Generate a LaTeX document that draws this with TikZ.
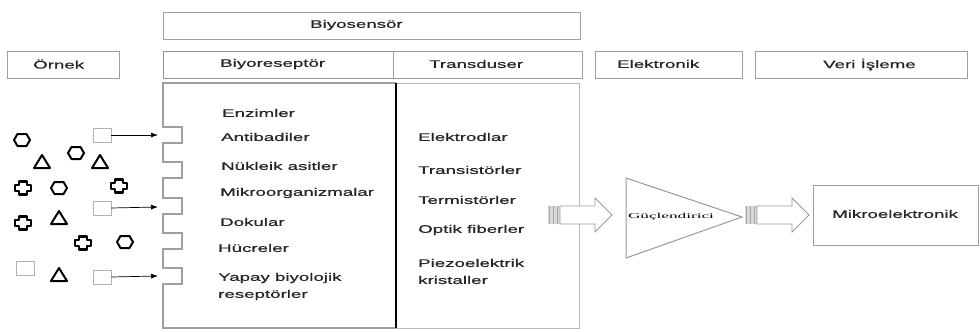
\documentclass[tikz,border=0pt]{standalone}
\usepackage{fontspec}
\setmainfont{Liberation Sans}[FakeStretch=1.7,FakeBold=0.6]
\newfontfamily\ampfont{Liberation Serif}
\usetikzlibrary{arrows.meta}
\begin{document}
\begin{tikzpicture}[x=1pt,y=-1pt,
  box/.style={draw=gray!75,line width=1pt,inner sep=0pt,minimum height=27pt},
  lbl/.style={anchor=west,inner sep=0pt,font=\fontsize{11}{13}\selectfont,text=black!85},
  sq/.style={draw=gray!60,line width=0.8pt,inner sep=0pt,minimum width=18pt,minimum height=14pt},
  mol/.style={draw=black,line width=2pt,line join=round},
  feed/.style={black,line width=0.7pt,-{Latex[length=7pt,width=5pt]}},
  harrow/.pic={
    \fill[gray!30] (0,-9) rectangle (12,9);
    \draw[gray!70,line width=1.3pt] (1.5,-9)--(1.5,9) (5.5,-9)--(5.5,9) (9.5,-9)--(9.5,9);
    \draw[gray!80,line width=0.8pt,fill=white,line join=miter]
      (12,-9) -- (47,-9) -- (47,-17) -- (64,0) -- (47,17) -- (47,9) -- (12,9) -- cycle;
  },
  hexa/.pic={\draw[mol] (-8,0)--(-4.5,-6)--(4.5,-6)--(8,0)--(4.5,6)--(-4.5,6)--cycle;},
  tri/.pic={\draw[mol] (-8,6)--(8,6)--(0,-7)--cycle;},
  crs/.pic={\draw[mol,line width=2.6pt] (-8,-3)--(-4,-3)--(-4,-6.5)--(4,-6.5)--(4,-3)--(8,-3)--(8,3)--(4,3)--(4,6.5)--(-4,6.5)--(-4,3)--(-8,3)--cycle;}
]
\useasboundingbox[fill=white] (0,0) rectangle (980,332);

% header boxes
\node[box,minimum width=417pt] (bsbox) at (371.5,25.5) {};
\node[lbl] (bslbl) at (310,25) {Biyosensör};
\node[box,minimum width=112pt] (orbox) at (63,64.5) {};
\node[lbl] (orlbl) at (33,64) {Örnek};
\node[box,minimum width=230pt,draw=gray!85] (brbox) at (278,64.5) {};
\node[lbl] (brlbl) at (220,64) {Biyoreseptör};
\node[box,minimum width=189pt] (trbox) at (487.5,64.5) {};
\node[lbl] (trlbl) at (429,64) {Transduser};
\node[box,minimum width=147pt] (elbox) at (668.5,64.5) {};
\node[lbl] (ellbl) at (617,64) {Elektronik};
\node[box,minimum width=212pt] (vibox) at (861,65) {};
\node[lbl] (vilbl) at (823,64.5) {Veri İşleme};

% receptor box with notched left edge
\draw[gray!75,line width=1.2pt,line join=miter]
  (396,83) -- (163,83) -- (163,127) -- (182,127) -- (182,143) -- (163,143)
  -- (163,162) -- (182,162) -- (182,178) -- (163,178)
  -- (163,198) -- (182,198) -- (182,214) -- (163,214)
  -- (163,233) -- (182,233) -- (182,249) -- (163,249)
  -- (163,268) -- (182,268) -- (182,284) -- (163,284)
  -- (163,328) -- (396,328);
% transducer box
\draw[gray!55,line width=1pt] (396,83) rectangle (579,328);
\draw[black,line width=1.1pt] (396,83) -- (396,328);

% receptor texts
\node[lbl] (r1) at (222,113) {Enzimler};
\node[lbl] (r2) at (221,137) {Antibadiler};
\node[lbl] (r3) at (221,166) {Nükleik asitler};
\node[lbl] (r4) at (220,193) {Mikroorganizmalar};
\node[lbl] (r5) at (220,222) {Dokular};
\node[lbl] (r6) at (218,248) {Hücreler};
\node[lbl] (r7) at (218,278) {Yapay biyolojik};
\node[lbl] (r8) at (218,295) {reseptörler};

% transducer texts
\node[lbl] (t1) at (418,137) {Elektrodlar};
\node[lbl] (t2) at (418,170) {Transistörler};
\node[lbl] (t3) at (418,200) {Termistörler};
\node[lbl] (t4) at (418,230) {Optik fiberler};
\node[lbl] (t5) at (418,263) {Piezoelektrik};
\node[lbl] (t6) at (418,280) {kristaller};

% sample molecules
\node[sq] (s1) at (102,135) {};
\node[sq] (s2) at (102,208) {};
\node[sq] (s3) at (102,277) {};
\node[sq] (s4) at (25,268) {};
\coordinate (n1) at (158,135);
\coordinate (n2) at (158,207);
\coordinate (n3) at (158,276);
\draw[feed] (s1.east) -- (n1);
\draw[feed] (s2.east) -- (n2);
\draw[feed] (s3.east) -- (n3);

\pic at (22,140) {hexa};
\pic at (76,153) {hexa};
\pic at (59,188) {hexa};
\pic at (125,242) {hexa};
\pic at (42,162) {tri};
\pic at (100,162) {tri};
\pic at (59,218) {tri};
\pic at (59,275) {tri};
\pic at (23,188) {crs};
\pic at (119,186) {crs};
\pic at (23,223) {crs};
\pic at (83,243) {crs};

% hollow arrows
\pic at (548,215) {harrow};
\pic at (745,215) {harrow};

% amplifier
\coordinate (ampa) at (626,178);
\coordinate (ampb) at (626,258);
\coordinate (ampc) at (742,217);
\draw[gray!80,line width=1pt,line join=miter] (ampa) -- (ampb) -- (ampc) -- cycle;
\node[inner sep=0pt] (amplbl) at (671,217) {\resizebox{86pt}{\height}{\ampfont\fontsize{7.5}{8}\selectfont Güçlendirici}};

% microelectronics
\node[draw=gray!75,line width=1pt,inner sep=0pt,minimum width=165pt,minimum height=60pt] (mebox) at (895.5,215) {};
\node[lbl] (melbl) at (832,214) {Mikroelektronik};
\end{tikzpicture}
\end{document}
